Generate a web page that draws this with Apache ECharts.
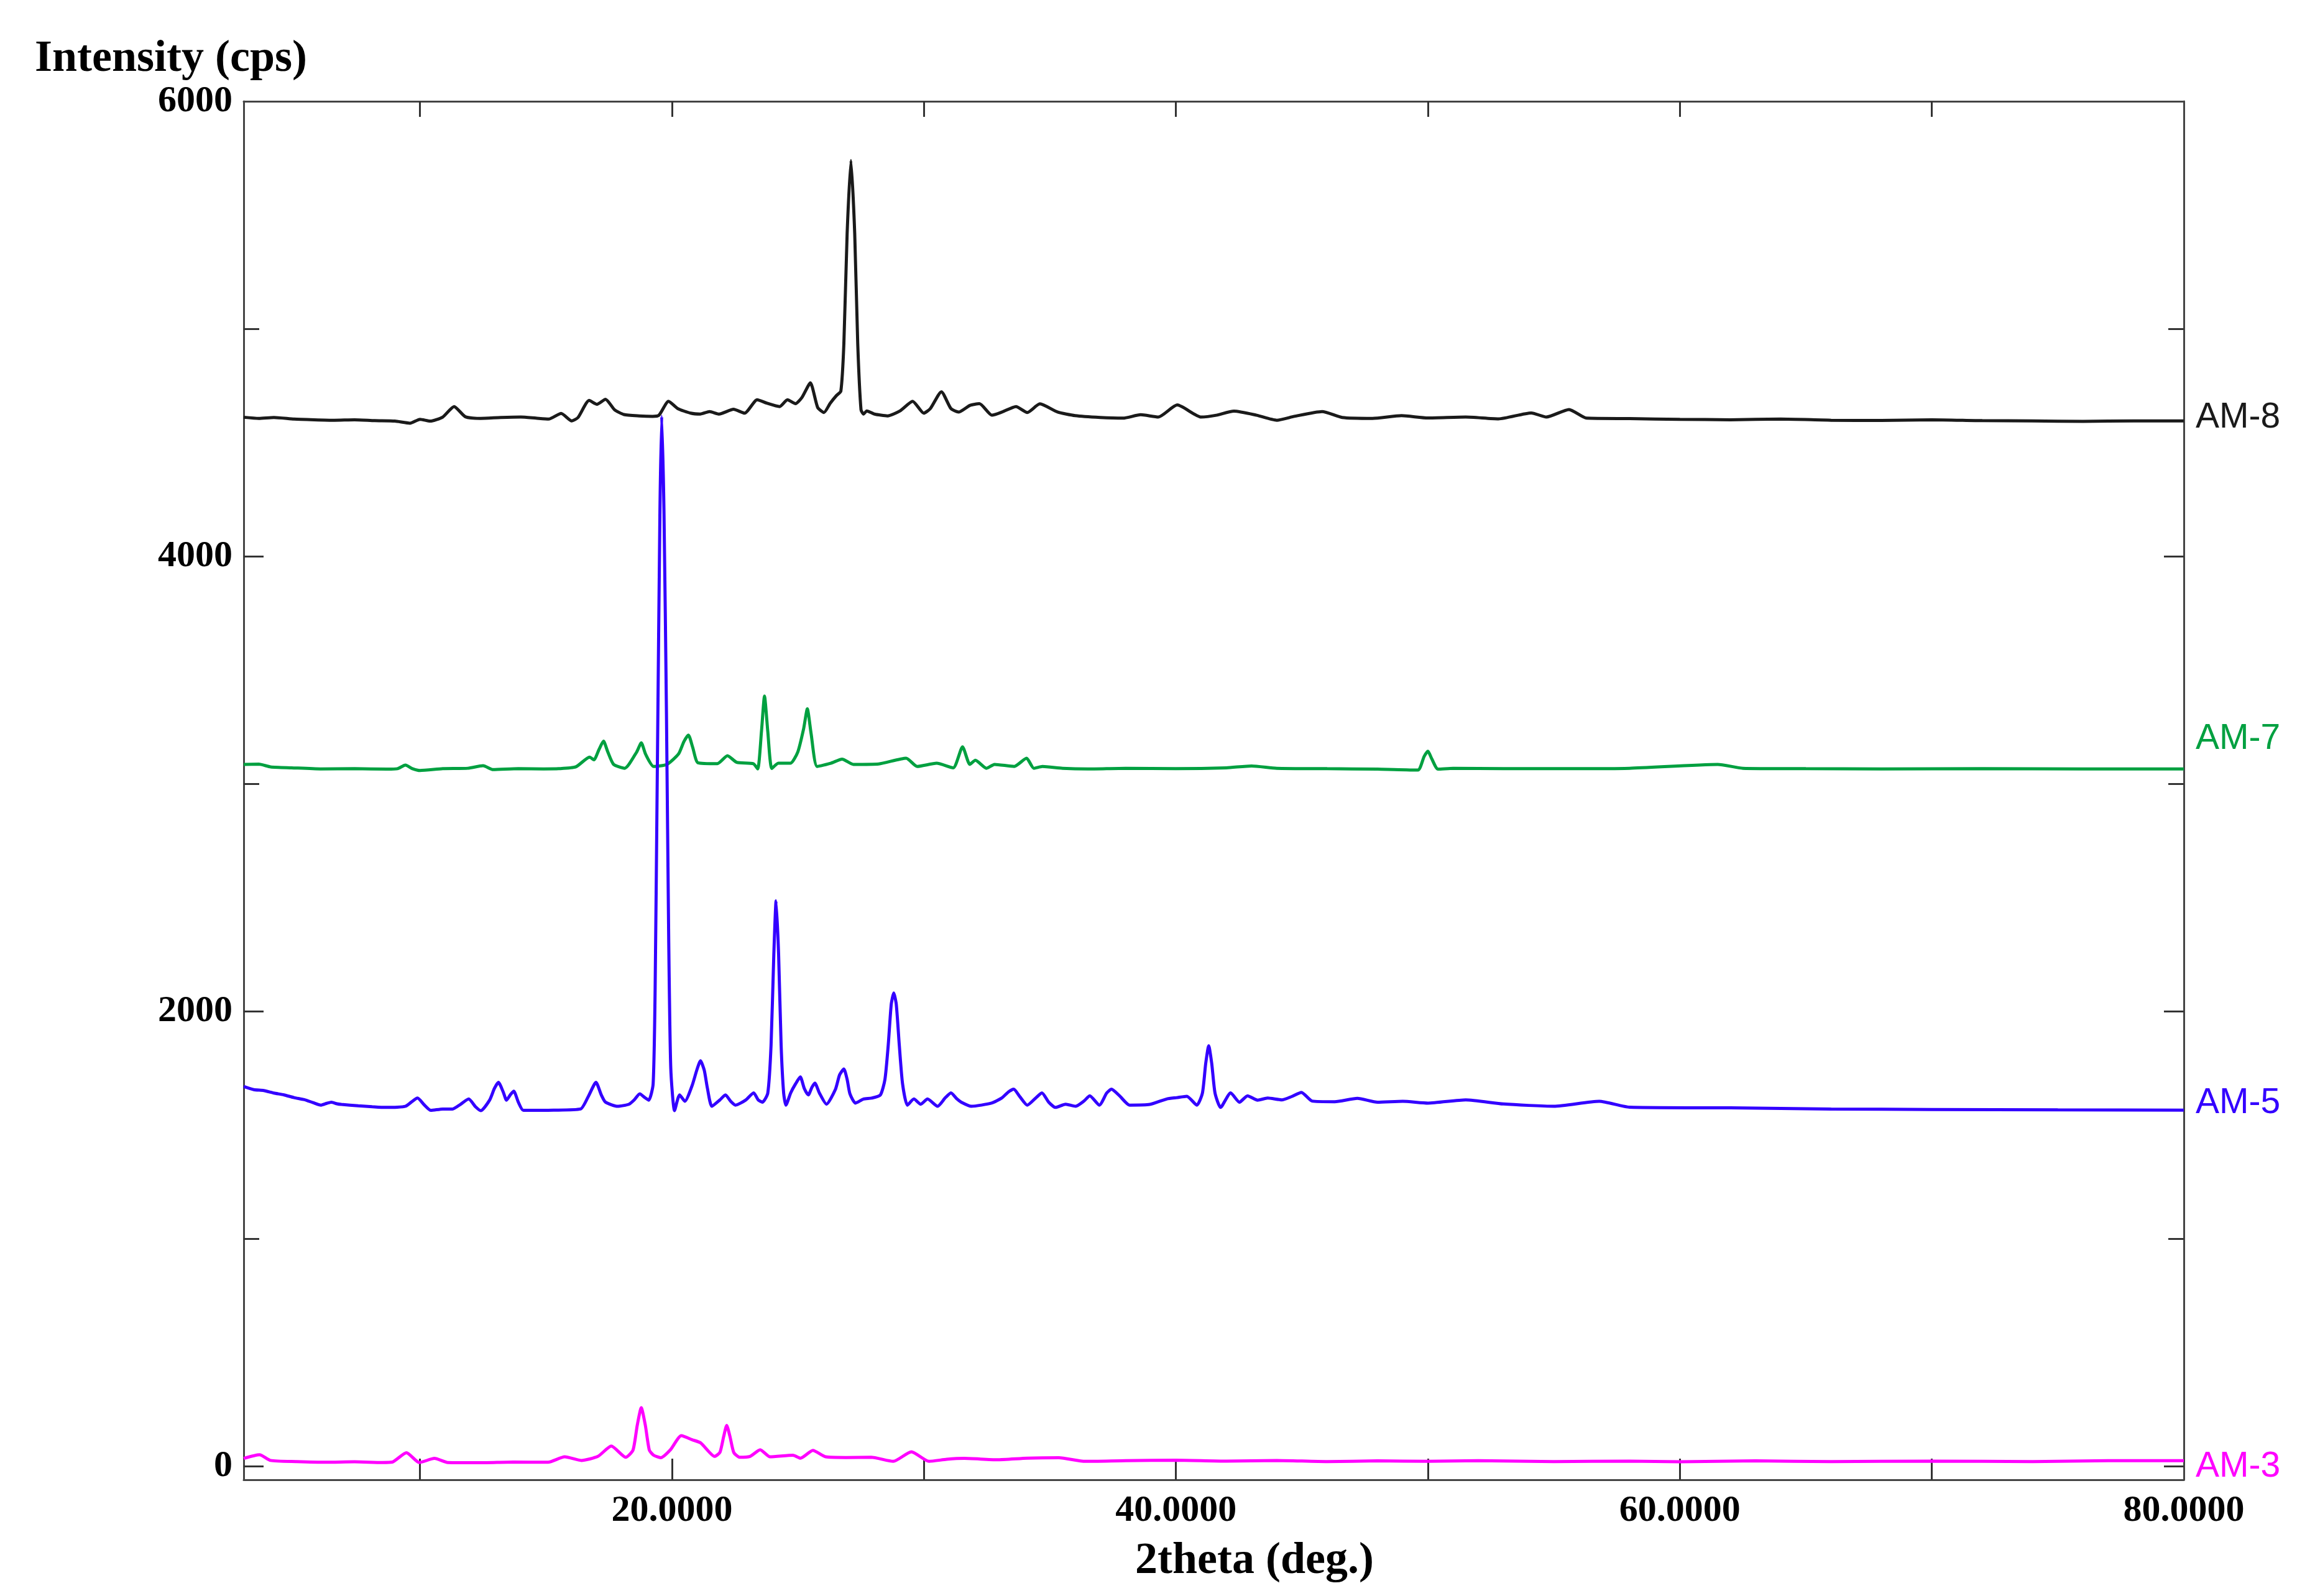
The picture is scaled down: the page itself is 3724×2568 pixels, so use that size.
<!DOCTYPE html>
<html>
<head>
<meta charset="utf-8">
<script src="https://cdn.jsdelivr.net/npm/echarts@6/dist/echarts.min.js"></script>
<style>html,body{margin:0;padding:0;background:#fff}#c{width:3724px;height:2568px}</style>
</head>
<body>
<div id="c"></div>
<script>
// ---- tick values / labels ----
const xTickValues = [10, 20, 30, 40, 50, 60, 70];
const xLabelValues = [20, 40, 60, 80];
const yMajorTicks = [0, 2000, 4000];
const yLabelValues = [0, 2000, 4000, 6000];
const yMinorTicks = [1000, 3000, 5000];
const seriesNames = ['AM-8', 'AM-7', 'AM-5', 'AM-3'];
const xTitle = '2theta (deg.)';
const yTitle = 'Intensity (cps)';

// ---- series values: [2theta, intensity] ----
const am8 = [
[3.0,4611],[3.6,4606],[4.2,4610],[5.0,4603],[5.8,4600],[6.6,4598],[7.4,4600],[8.2,4596],[9.0,4594],[9.6,4585],[10.0,4602],[10.4,4594],[10.9,4612],[11.35,4658],[11.8,4613],[12.4,4606],[13.2,4610],[14.0,4612],[14.6,4607],[15.1,4603],[15.6,4628],[16.02,4595],[16.27,4610],[16.71,4685],[17.02,4668],[17.36,4690],[17.72,4644],[18.09,4623],[18.7,4617],[19.23,4615],[19.48,4620],[19.86,4681],[20.23,4649],[20.74,4629],[21.12,4625],[21.49,4636],[21.87,4625],[22.44,4646],[22.88,4629],[23.38,4688],[23.76,4673],[24.27,4658],[24.58,4688],[24.9,4671],[25.15,4697],[25.49,4762],[25.78,4654],[26.03,4632],[26.28,4673],[26.53,4707],[26.7,4726],[26.82,4935],[26.95,5420],[27.1,5740],[27.25,5420],[27.37,4935],[27.5,4644],[27.6,4625],[27.73,4639],[28.04,4625],[28.55,4617],[29.05,4639],[29.55,4681],[29.99,4629],[30.25,4649],[30.69,4723],[31.07,4649],[31.38,4634],[31.82,4663],[32.2,4671],[32.7,4620],[33.1,4634],[33.65,4658],[34.1,4632],[34.6,4670],[35.3,4634],[36.0,4618],[37.0,4610],[37.9,4607],[38.6,4622],[39.3,4612],[40.05,4665],[41.0,4612],[41.6,4620],[42.3,4638],[43.2,4620],[44.0,4598],[44.7,4615],[45.8,4636],[46.6,4610],[47.8,4606],[48.95,4618],[50.0,4608],[51.5,4612],[52.8,4604],[54.1,4630],[54.7,4612],[55.6,4645],[56.3,4607],[58.0,4605],[60.0,4602],[62.0,4600],[64.0,4603],[66.0,4598],[68.0,4597],[70.0,4600],[72.0,4596],[74.0,4595],[76.0,4593],[78.0,4595],[80.0,4595]
];
const am7 = [
[3.0,3085],[3.6,3086],[4.07,3074],[4.9,3070],[6.05,3065],[7.4,3066],[8.7,3064],[9.1,3066],[9.42,3082],[9.7,3066],[10.0,3058],[10.9,3066],[11.9,3068],[12.5,3079],[12.9,3062],[13.9,3066],[14.9,3065],[15.5,3066],[16.18,3074],[16.73,3117],[16.9,3105],[17.1,3150],[17.28,3187],[17.45,3140],[17.68,3085],[18.12,3068],[18.6,3140],[18.78,3180],[18.95,3130],[19.27,3076],[19.8,3085],[20.26,3131],[20.47,3185],[20.65,3214],[20.82,3160],[21.03,3092],[21.8,3088],[22.2,3123],[22.57,3094],[23.23,3088],[23.4,3065],[23.55,3230],[23.67,3385],[23.8,3230],[23.96,3067],[24.22,3090],[24.7,3090],[24.99,3139],[25.22,3240],[25.37,3329],[25.52,3220],[25.76,3076],[26.3,3090],[26.75,3108],[27.2,3085],[28.2,3087],[29.29,3112],[29.73,3076],[30.5,3090],[31.16,3070],[31.53,3162],[31.82,3085],[32.04,3103],[32.48,3068],[32.8,3085],[33.58,3076],[34.07,3112],[34.36,3068],[34.7,3076],[35.5,3068],[36.5,3065],[38.0,3068],[40.0,3066],[42.0,3070],[43.0,3078],[44.0,3068],[46.0,3066],[48.0,3064],[49.6,3060],[49.85,3120],[50.0,3143],[50.15,3110],[50.4,3064],[51.0,3068],[53.0,3066],[55.0,3066],[58.0,3068],[61.5,3085],[62.5,3068],[65.0,3066],[68.0,3065],[72.0,3066],[76.0,3065],[80.0,3065]
];
const am5 = [
[3.0,1669],[3.4,1655],[3.8,1651],[4.2,1640],[4.6,1632],[5.0,1620],[5.41,1611],[5.75,1598],[6.07,1587],[6.3,1595],[6.48,1600],[6.7,1593],[6.88,1590],[7.55,1584],[8.1,1580],[8.61,1577],[9.1,1578],[9.42,1582],[9.65,1600],[9.9,1618],[10.15,1590],[10.43,1564],[10.9,1570],[11.29,1570],[11.6,1590],[11.93,1614],[12.2,1580],[12.41,1563],[12.76,1609],[12.95,1660],[13.11,1687],[13.3,1645],[13.43,1609],[13.6,1635],[13.72,1648],[13.9,1600],[14.1,1564],[15.3,1565],[16.37,1570],[16.69,1628],[16.98,1687],[17.2,1630],[17.36,1600],[17.84,1582],[18.29,1591],[18.5,1610],[18.72,1637],[18.9,1622],[19.08,1609],[19.25,1680],[19.33,2100],[19.42,3100],[19.52,4200],[19.59,4615],[19.68,4200],[19.78,3300],[19.87,2300],[19.95,1750],[20.1,1563],[20.3,1632],[20.51,1604],[20.8,1674],[20.98,1740],[21.13,1782],[21.28,1740],[21.4,1664],[21.58,1582],[21.9,1610],[22.12,1632],[22.32,1605],[22.52,1587],[22.92,1609],[23.24,1641],[23.42,1610],[23.59,1600],[23.8,1640],[23.93,1850],[24.04,2250],[24.13,2485],[24.23,2250],[24.33,1850],[24.43,1640],[24.52,1587],[24.71,1641],[24.9,1680],[25.09,1711],[25.25,1660],[25.41,1632],[25.55,1665],[25.67,1684],[25.85,1640],[26.13,1591],[26.48,1655],[26.65,1720],[26.82,1746],[26.95,1700],[27.06,1637],[27.28,1596],[27.6,1614],[27.92,1618],[28.27,1632],[28.45,1700],[28.58,1850],[28.7,2030],[28.8,2080],[28.9,2030],[29.02,1850],[29.15,1680],[29.34,1587],[29.6,1614],[29.87,1591],[30.14,1614],[30.54,1582],[30.85,1620],[31.07,1641],[31.3,1615],[31.48,1600],[31.88,1582],[32.68,1596],[33.08,1618],[33.35,1645],[33.56,1657],[33.8,1625],[34.1,1587],[34.45,1620],[34.68,1641],[34.95,1600],[35.22,1577],[35.62,1591],[36.02,1582],[36.35,1605],[36.58,1628],[36.96,1587],[37.25,1640],[37.44,1657],[37.76,1628],[38.16,1587],[38.96,1590],[39.63,1614],[40.03,1620],[40.43,1626],[40.83,1587],[41.05,1640],[41.18,1770],[41.3,1848],[41.42,1770],[41.55,1640],[41.77,1577],[42.17,1641],[42.52,1600],[42.84,1628],[43.24,1609],[43.64,1618],[44.2,1610],[44.6,1625],[44.98,1643],[45.4,1605],[46.3,1602],[47.2,1617],[48.0,1600],[49.0,1604],[50.0,1596],[51.5,1610],[53.0,1592],[55.0,1582],[56.8,1604],[58.0,1578],[62.0,1575],[66.0,1570],[70.0,1568],[75.0,1566],[80.0,1565]
];
const am3 = [
[3.0,34],[3.63,50],[4.07,25],[5.1,20],[6.27,17],[7.4,19],[8.5,16],[8.9,18],[9.46,59],[9.97,16],[10.57,34],[11.1,16],[12.4,15],[13.7,18],[15.08,17],[15.74,41],[16.4,25],[17.06,43],[17.59,88],[18.16,39],[18.45,70],[18.62,180],[18.78,257],[18.94,180],[19.1,70],[19.27,48],[19.55,37],[19.93,71],[20.37,134],[20.8,116],[21.14,102],[21.69,43],[21.9,60],[22.05,130],[22.17,179],[22.3,130],[22.45,60],[22.68,39],[23.1,43],[23.5,72],[23.89,41],[24.8,48],[25.1,35],[25.59,69],[26.1,41],[26.9,38],[27.9,39],[28.78,21],[29.5,63],[30.2,21],[30.9,30],[31.6,34],[32.9,28],[34.1,35],[35.35,37],[36.4,21],[38.0,24],[40.0,26],[42.0,22],[44.0,25],[46.0,20],[48.0,23],[50.0,21],[52.0,24],[55.0,20],[58.0,22],[60.0,19],[63.0,23],[66.0,20],[70.0,22],[74.0,20],[77.0,24],[80.0,24]
];

const seriesData = [am8, am7, am5, am3];
const seriesColors = ['#1a1a1a', '#00a040', '#3300ff', '#ff00ff'];
const labelOffsets = [[0, -5], [0, -48], [0, -11], [0, 10]];

const axisColor = '#444';
const tickStyle = { color: '#333', width: 3 };
const serifBold = { fontFamily: 'Liberation Serif', fontWeight: 'bold', color: '#000' };

function xAx(pos, showLabel, len) {
  return {
    type: 'value', min: 3, max: 80, position: pos,
    axisLine: { show: true, onZero: false, lineStyle: { color: axisColor, width: 3 } },
    axisTick: { show: true, inside: true, length: len, customValues: xTickValues, lineStyle: tickStyle },
    axisLabel: showLabel ? Object.assign({ show: true, customValues: xLabelValues, formatter: v => Number(v).toFixed(4), fontSize: 60, margin: 20 }, serifBold) : { show: false },
    splitLine: { show: false }
  };
}
function yAx(pos, showLine, ticks, len, showLabel) {
  return {
    type: 'value', min: -60, max: 6000, position: pos,
    axisLine: { show: showLine, onZero: false, lineStyle: { color: axisColor, width: 3 } },
    axisTick: { show: true, inside: true, length: len, customValues: ticks, lineStyle: tickStyle },
    axisLabel: showLabel ? Object.assign({ show: true, customValues: yLabelValues, formatter: v => String(Math.round(v)), fontSize: 60, margin: 18 }, serifBold) : { show: false },
    splitLine: { show: false }
  };
}

const chart = echarts.init(document.getElementById('c'), null, { renderer: 'canvas' });
chart.setOption({
  animation: false,
  backgroundColor: '#fff',
  grid: { left: 392, right: 211, top: 163, bottom: 187, containLabel: false },
  xAxis: [xAx('bottom', true, 34), xAx('top', false, 25)],
  yAxis: [
    yAx('left', true, yMajorTicks, 32, true),
    yAx('left', false, yMinorTicks, 25, false),
    yAx('right', true, yMajorTicks, 32, false),
    yAx('right', false, yMinorTicks, 25, false)
  ],
  graphic: [
    { type: 'text', x: 56, y: 95, style: { text: yTitle, font: 'bold 72px "Liberation Serif"', fill: '#000', textAlign: 'left', textVerticalAlign: 'middle', align: 'left', verticalAlign: 'middle' } },
    { type: 'text', x: 2018, y: 2512, style: { text: xTitle, font: 'bold 72px "Liberation Serif"', fill: '#000', textAlign: 'center', textVerticalAlign: 'middle', align: 'center', verticalAlign: 'middle' } }
  ],
  series: seriesNames.map((name, i) => ({
    name: name,
    type: 'line',
    xAxisIndex: 0,
    yAxisIndex: 0,
    data: seriesData[i],
    showSymbol: false,
    symbol: 'none',
    smooth: 0.2,
    clip: true,
    lineStyle: { color: seriesColors[i], width: 5 },
    itemStyle: { color: seriesColors[i] },
    endLabel: {
      show: true,
      formatter: p => p.seriesName,
      color: seriesColors[i],
      fontFamily: 'Liberation Sans',
      fontSize: 57,
      distance: 19,
      offset: labelOffsets[i]
    },
    z: 2 + i
  }))
});
</script>
</body>
</html>
